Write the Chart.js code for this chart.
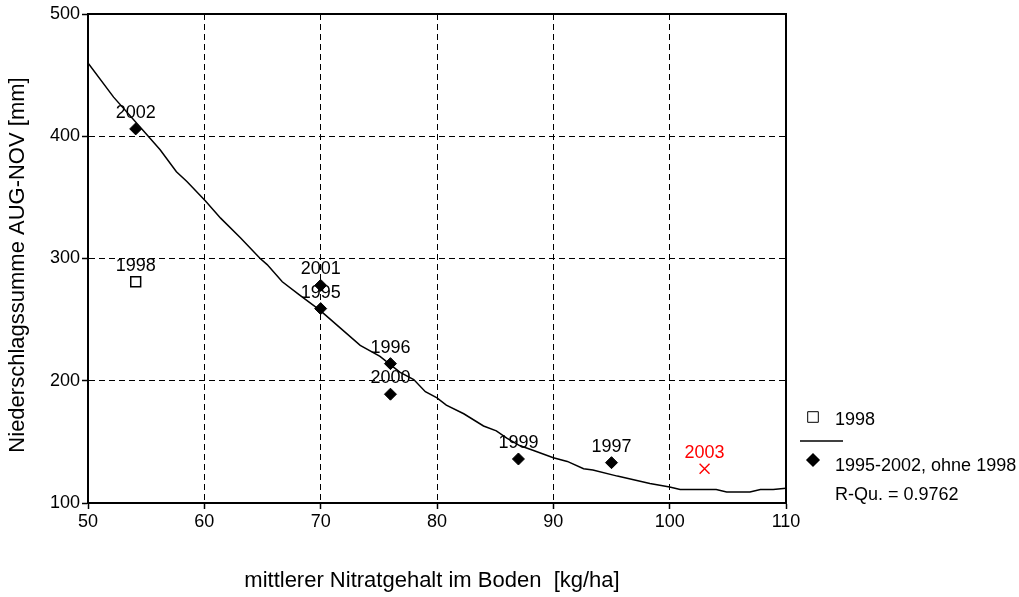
<!DOCTYPE html>
<html>
<head>
<meta charset="utf-8">
<script src="https://cdn.jsdelivr.net/npm/chart.js@4/dist/chart.umd.min.js"></script>
<style>
  html, body { margin: 0; padding: 0; background: #fff; }
  #wrap { width: 1019px; height: 597px; }
</style>
</head>
<body>
<div id="wrap"><canvas id="nitratChart"></canvas></div>
<script>
// Messjahre 1995-2002 (ohne 1998): Nitrat [kg/ha] und Niederschlag AUG-NOV [mm]
const jahre = ['2002', '2001', '1995', '1996', '2000', '1999', '1997'];
const nitrat = [54.1, 70, 70, 76, 76, 87, 95];
const niederschlag = [406, 278, 259, 214, 189, 136, 133];

// Ausreisser 1998
const jahr1998 = ['1998'];
const nitrat1998 = [54.1];
const niederschlag1998 = [281];

// 2003 (nicht in der Regression)
const jahr2003 = ['2003'];
const nitrat2003 = [103];
const niederschlag2003 = [128];

// Regressionskurve
const kurveX = [50, 52.2, 54.8, 56.2, 57.6, 58.5, 60.1, 61.4, 63.1, 64.8, 65.4, 66.7, 68.2, 69.9, 71.7,
  73.4, 75.1, 76.8, 78, 79, 80, 80.8, 82.3, 84, 85.1, 86, 87.1, 88.3, 90, 91.2, 92.6, 93.4, 95.5,
  96.9, 98.3, 100, 100.9, 102.6, 104, 104.9, 106.9, 107.8, 108.9, 110];
const kurveY = [460, 432, 404, 389, 371, 363, 347, 333, 317, 300, 295, 281, 270, 258, 243,
  229, 220, 207, 201, 191, 186, 180, 173, 163, 159, 153, 147, 143, 137, 134, 128, 127, 122,
  119, 116, 113, 111, 111, 111, 109, 109, 111, 111, 112];

const xTicks = [50, 60, 70, 80, 90, 100, 110];
const yTicks = [100, 200, 300, 400, 500];

const xTitel = 'mittlerer Nitratgehalt im Boden  [kg/ha]';
const yTitel = 'Niederschlagssumme AUG-NOV [mm]';
const legende = ['1998', '1995-2002, ohne 1998', 'R-Qu. = 0.9762'];

const schrift = '"Liberation Sans", Arial, sans-serif';
Chart.defaults.font.family = schrift;
Chart.defaults.color = '#000';

const paare = (xs, ys) => xs.map((x, i) => ({ x: x, y: ys[i] }));

// Rahmen um die Zeichenflaeche
const rahmen = {
  id: 'rahmen',
  beforeDatasetsDraw(chart) {
    const { ctx, chartArea: a } = chart;
    ctx.save();
    ctx.setLineDash([]);
    ctx.strokeStyle = '#000';
    ctx.lineWidth = 2;
    ctx.strokeRect(a.left, a.top, a.right - a.left, a.bottom - a.top);
    ctx.restore();
  }
};

// Jahreszahlen ueber den Punkten
const jahresLabels = {
  id: 'jahresLabels',
  afterDatasetsDraw(chart) {
    const ctx = chart.ctx;
    ctx.save();
    ctx.font = '18px ' + schrift;
    ctx.textAlign = 'center';
    ctx.textBaseline = 'middle';
    chart.data.datasets.forEach((ds, i) => {
      if (!ds.jahre) return;
      ctx.fillStyle = ds.labelFarbe || '#000';
      chart.getDatasetMeta(i).data.forEach((pt, j) => {
        ctx.fillText(ds.jahre[j], pt.x, pt.y - 16);
      });
    });
    ctx.restore();
  }
};

// Achsentitel und Legende
const beschriftung = {
  id: 'beschriftung',
  afterDraw(chart) {
    const { ctx, chartArea: a } = chart;
    ctx.save();
    ctx.fillStyle = '#000';
    ctx.textBaseline = 'middle';

    ctx.font = '22px ' + schrift;
    ctx.textAlign = 'center';
    ctx.fillText(xTitel, 432, 581);

    ctx.save();
    ctx.translate(18, 265);
    ctx.rotate(-Math.PI / 2);
    ctx.fillText(yTitel, 0, 0);
    ctx.restore();

    // Legende rechts neben dem Diagramm
    const mx = a.right + 27;
    const tx = a.right + 49;
    ctx.strokeStyle = '#000';
    ctx.fillStyle = '#fff';
    Chart.helpers.drawPoint(ctx, { pointStyle: 'rect', radius: 7.5, borderWidth: 1.5 }, mx, 417);

    ctx.lineWidth = 1.5;
    ctx.beginPath();
    ctx.moveTo(a.right + 14, 441);
    ctx.lineTo(a.right + 57, 441);
    ctx.stroke();

    ctx.fillStyle = '#000';
    Chart.helpers.drawPoint(ctx, { pointStyle: 'rectRot', radius: 6, borderWidth: 1 }, mx, 460);

    ctx.font = '18px ' + schrift;
    ctx.textAlign = 'left';
    ctx.fillText(legende[0], tx, 420);
    ctx.fillText(legende[1], tx, 466);
    ctx.fillText(legende[2], tx, 495);
    ctx.restore();
  }
};

new Chart(document.getElementById('nitratChart'), {
  type: 'scatter',
  data: {
    datasets: [
      {
        type: 'line',
        data: paare(kurveX, kurveY),
        borderColor: '#000',
        borderWidth: 1.5,
        pointRadius: 0,
        tension: 0,
        fill: false
      },
      {
        data: paare(nitrat1998, niederschlag1998),
        jahre: jahr1998,
        pointStyle: 'rect',
        pointRadius: 7,
        backgroundColor: '#fff',
        borderColor: '#000',
        borderWidth: 1.5
      },
      {
        data: paare(nitrat, niederschlag),
        jahre: jahre,
        pointStyle: 'rectRot',
        pointRadius: 6,
        backgroundColor: '#000',
        borderColor: '#000',
        borderWidth: 1
      },
      {
        data: paare(nitrat2003, niederschlag2003),
        jahre: jahr2003,
        labelFarbe: '#ff0000',
        pointStyle: 'crossRot',
        pointRadius: 7,
        borderColor: '#ff0000',
        borderWidth: 1.4
      }
    ]
  },
  options: {
    responsive: true,
    maintainAspectRatio: false,
    animation: false,
    layout: { padding: { left: 0, top: 14, right: 233, bottom: 0 } },
    plugins: {
      legend: { display: false },
      tooltip: { enabled: false }
    },
    scales: {
      x: {
        type: 'linear',
        min: 50,
        max: 110,
        afterBuildTicks: (s) => { s.ticks = xTicks.map(v => ({ value: v })); },
        afterFit: (s) => { s.height = 94; },
        ticks: { font: { size: 18 }, padding: 2, maxRotation: 0 },
        grid: { color: '#000', lineWidth: 1, tickLength: 6, tickColor: '#000', tickWidth: 1.5 },
        border: { display: true, color: '#000', width: 2, dash: [6, 4] }
      },
      y: {
        type: 'linear',
        min: 100,
        max: 500,
        afterBuildTicks: (s) => { s.ticks = yTicks.map(v => ({ value: v })); },
        afterFit: (s) => { s.width = 88; },
        ticks: { font: { size: 18 }, padding: 2 },
        grid: { color: '#000', lineWidth: 1, tickLength: 6, tickColor: '#000', tickWidth: 1.5 },
        border: { display: true, color: '#000', width: 2, dash: [6, 4] }
      }
    }
  },
  plugins: [rahmen, jahresLabels, beschriftung]
});
</script>
</body>
</html>
